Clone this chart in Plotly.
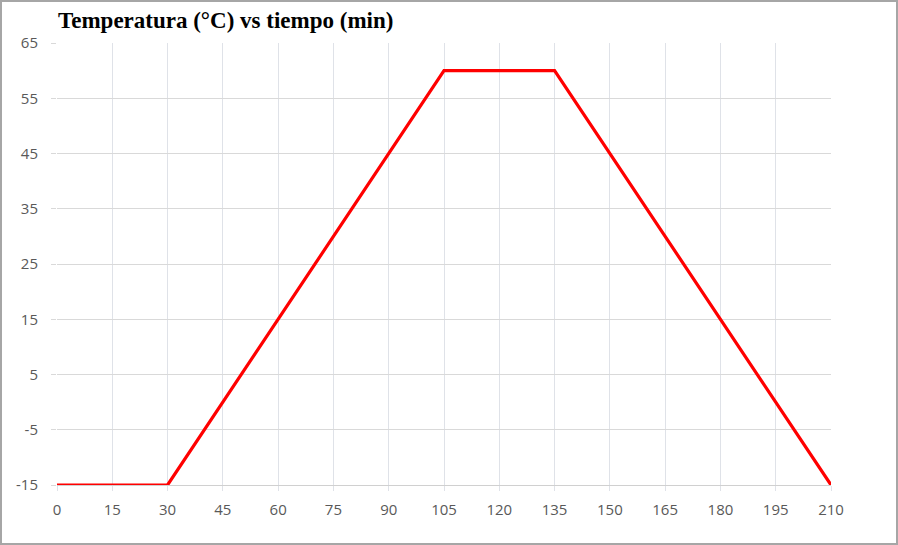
import plotly.graph_objects as go

tiempo = [0, 30, 105, 135, 210]
temperatura = [-15, -15, 60, 60, -15]
x_ticks = list(range(0, 211, 15))
y_ticks = list(range(-15, 66, 10))
y_labels = [str(v) for v in y_ticks]

W, H = 898, 545
ml, mr, mt, mb = 57, 67, 43, 60
pw, ph = W - ml - mr, H - mt - mb

fig = go.Figure()
fig.add_trace(go.Scatter(x=tiempo, y=temperatura, mode="lines",
                         line=dict(color="#ff0000", width=3.2), showlegend=False))

tickfont = dict(family="Open Sans, Liberation Sans, sans-serif", size=15, color="#595959")
fig.update_xaxes(range=[0, 210], tickvals=x_ticks, showgrid=True, gridcolor="#dfe2e8", gridwidth=1,
                 ticks="outside", ticklen=5, tickcolor="#dfe2e8", zeroline=False,
                 showline=True, linecolor="#d0d0d0", linewidth=1, tickfont=tickfont, ticklabelstandoff=6)
fig.update_yaxes(range=[-15, 65], tickvals=y_ticks, ticktext=y_labels, showgrid=True, gridcolor="#d9d9d9", gridwidth=1,
                 ticks="outside", ticklen=5, tickcolor="#d9d9d9", zeroline=False,
                 showline=False, tickfont=tickfont, ticklabelstandoff=10)

def px(x):
    return (x - ml) / pw

def py(y):
    return 1 - (y - mt) / ph

fig.add_shape(type="rect", xref="paper", yref="paper",
              x0=px(1), x1=px(897), y0=py(1), y1=py(544),
              line=dict(color="#a6a6a6", width=2), fillcolor="rgba(0,0,0,0)", layer="above")

fig.update_layout(
    width=W, height=H,
    margin=dict(l=ml, r=mr, t=mt, b=mb),
    paper_bgcolor="white", plot_bgcolor="white",
    title=dict(text="<b>Temperatura (°C) vs tiempo (min)</b>", xref="container", x=58 / W, xanchor="left",
               yref="container", y=1 - 20 / H, yanchor="middle",
               font=dict(family="Liberation Serif, serif", size=23, color="black")),
)
fig.write_html("out.html")
